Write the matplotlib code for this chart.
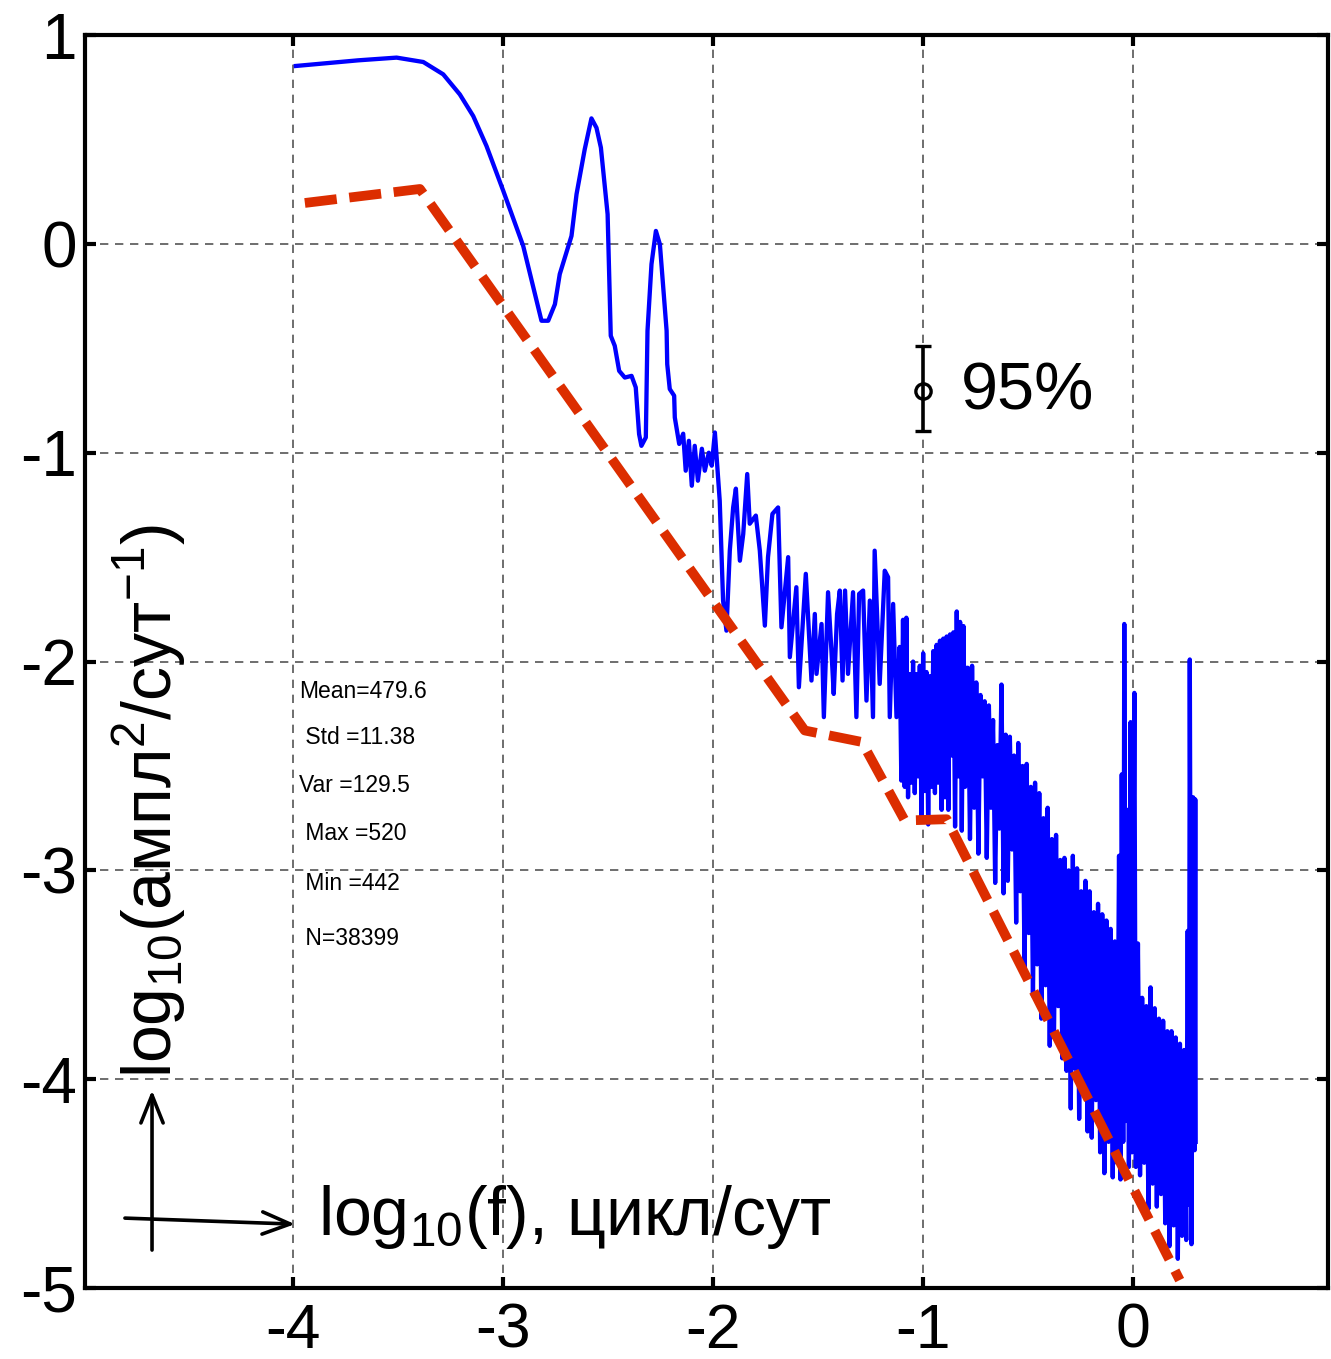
import matplotlib
matplotlib.use('Agg')
import matplotlib.pyplot as plt

plt.rcParams['font.family'] = ['Liberation Sans', 'DejaVu Sans']
plt.rcParams['mathtext.fontset'] = 'custom'
plt.rcParams['mathtext.rm'] = 'Liberation Sans'

# спектр: log10(f) и log10(S)
f_log = [-3.986, -3.689, -3.506, -3.379, -3.284, -3.205, -3.141, -3.078, -2.998, -2.903,
         -2.816, -2.784, -2.752, -2.729, -2.673, -2.649, -2.610, -2.578, -2.554, -2.533,
         -2.501, -2.486, -2.467, -2.446, -2.419, -2.387, -2.367, -2.351, -2.340, -2.319,
         -2.311, -2.292, -2.271, -2.252, -2.220, -2.217, -2.205, -2.184, -2.181, -2.160,
         -2.141, -2.129, -2.114, -2.100, -2.086, -2.071, -2.052, -2.038, -2.019, -2.005,
         -1.990, -1.967, -1.951, -1.935, -1.919, -1.903, -1.890, -1.871, -1.855, -1.836,
         -1.824, -1.795, -1.776, -1.752, -1.737, -1.716, -1.689, -1.673, -1.641, -1.633,
         -1.602, -1.590, -1.557, -1.530, -1.514, -1.506, -1.482, -1.471, -1.451, -1.435,
         -1.424, -1.408, -1.395, -1.382, -1.370, -1.356, -1.332, -1.316, -1.303, -1.284,
         -1.268, -1.252, -1.237, -1.229, -1.205, -1.181, -1.165, -1.157, -1.141, -1.125,
         -1.110, -1.102, -1.094, -1.086, -1.078, -1.070, -1.062, -1.054, -1.046, -1.038,
         -1.030, -1.022, -1.014, -1.006, -0.998, -0.990, -0.982, -0.974, -0.966, -0.958,
         -0.950, -0.942, -0.934, -0.926, -0.918, -0.910, -0.902, -0.894, -0.886, -0.878,
         -0.870, -0.862, -0.854, -0.846, -0.838, -0.830, -0.822, -0.814, -0.806, -0.798,
         -0.790,
         -0.785, -0.775, -0.765, -0.755, -0.745, -0.735, -0.725, -0.715, -0.705, -0.695,
         -0.685, -0.675, -0.665, -0.655, -0.645, -0.635, -0.625, -0.615, -0.605, -0.595,
         -0.585, -0.575, -0.565, -0.555, -0.545, -0.535, -0.525, -0.515, -0.505, -0.495,
         -0.485, -0.475, -0.465, -0.455, -0.445, -0.435, -0.425, -0.415, -0.405, -0.395,
         -0.385, -0.375, -0.365, -0.355, -0.345, -0.335, -0.325, -0.315, -0.305, -0.295,
         -0.285, -0.275, -0.265, -0.255, -0.245, -0.235, -0.225, -0.215, -0.205, -0.195,
         -0.185, -0.175, -0.165, -0.155, -0.145, -0.135, -0.125, -0.115, -0.105, -0.095,
         -0.085, -0.075, -0.065, -0.058, -0.052, -0.045, -0.040, -0.033, -0.025, -0.018,
         -0.010, -0.003, 0.008, 0.015, 0.025, 0.035, 0.045, 0.055, 0.065, 0.075,
         0.085, 0.095, 0.105, 0.115, 0.125, 0.135, 0.145, 0.155, 0.165, 0.175,
         0.185, 0.195, 0.205, 0.215, 0.225, 0.235, 0.245, 0.255, 0.262, 0.268,
         0.272, 0.280, 0.288, 0.295, 0.298, 0.300]
s_log = [0.852, 0.879, 0.892, 0.871, 0.812, 0.716, 0.612, 0.469, 0.254, -0.010,
         -0.368, -0.368, -0.289, -0.145, 0.038, 0.238, 0.453, 0.601, 0.556, 0.461,
         0.142, -0.440, -0.488, -0.608, -0.640, -0.632, -0.687, -0.911, -0.967, -0.927,
         -0.416, -0.097, 0.062, -0.002, -0.416, -0.576, -0.695, -0.727, -0.831, -0.958,
         -0.909, -1.086, -0.943, -1.158, -0.967, -1.134, -0.981, -1.086, -1.000, -1.062,
         -0.903, -1.230, -1.708, -1.852, -1.469, -1.262, -1.172, -1.517, -1.389, -1.102,
         -1.340, -1.301, -1.469, -1.828, -1.500, -1.293, -1.262, -1.836, -1.500, -1.979,
         -1.644, -2.123, -1.580, -2.091, -1.772, -2.059, -1.820, -2.266, -1.668, -1.947,
         -2.155, -1.772, -1.660, -2.091, -1.660, -2.059, -1.668, -2.266, -1.676, -1.660,
         -2.187, -1.708, -2.266, -1.469, -2.107, -1.565, -1.596, -2.266, -1.724, -2.266,
         -1.93, -2.57, -1.80, -2.60, -1.79, -2.65, -2.06, -2.58, -2.00, -2.63,
         -2.06, -2.55, -2.02, -2.75, -1.96, -2.62, -2.05, -2.78, -2.07, -2.60,
         -1.95, -2.63, -1.92, -2.58, -1.90, -2.71, -1.89, -2.65, -1.88, -2.71,
         -1.87, -2.45, -1.86, -2.79, -1.76, -2.55, -1.81, -2.81, -1.83, -2.60,
         -2.03,
         -2.03, -2.85, -2.02, -2.70, -2.10, -2.92, -2.16, -2.55, -2.19, -2.94,
         -2.21, -2.70, -2.28, -3.06, -2.40, -2.80, -2.11, -3.11, -2.35, -3.05,
         -2.36, -2.90, -2.45, -3.25, -2.39, -3.10, -2.50, -3.47, -2.49, -3.30,
         -2.60, -3.60, -2.58, -3.45, -2.63, -3.71, -2.75, -3.55, -2.70, -3.84,
         -2.85, -3.80, -2.83, -3.65, -2.95, -3.90, -2.94, -3.96, -3.00, -4.14,
         -2.93, -3.95, -2.99, -4.19, -3.10, -4.05, -3.05, -4.25, -3.10, -4.28,
         -3.20, -4.10, -3.16, -4.35, -3.21, -4.45, -3.24, -4.30, -3.28, -4.47,
         -3.34, -4.40, -2.93, -4.48, -2.54, -4.30, -1.82, -4.20, -2.71, -4.42,
         -2.29, -4.35, -2.15, -4.42, -3.35, -4.46, -3.61, -4.40, -3.65, -4.62,
         -3.56, -4.50, -3.66, -4.61, -3.71, -4.55, -3.72, -4.69, -3.77, -4.80,
         -3.77, -4.70, -3.80, -4.86, -3.83, -4.75, -3.86, -4.77, -3.29, -4.60,
         -1.99, -4.79, -2.65, -4.34, -2.66, -4.30]

# кусочно-линейная аппроксимация (красный пунктир)
fit_f = [-3.943, -3.395, -1.562, -1.290, -1.086, -0.886, 0.224]
fit_s = [0.196, 0.263, -2.330, -2.385, -2.761, -2.755, -4.962]

# 95% доверительный интервал
ci_f = -1.0
ci_s = -0.703
ci_lo = 0.192
ci_hi = 0.215

stats = ['Mean=479.6', ' Std =11.38', 'Var =129.5', ' Max =520', ' Min =442', ' N=38399']
stats_y = [-2.145, -2.365, -2.595, -2.825, -3.065, -3.325]

fig = plt.figure(figsize=(13.31, 13.59), dpi=100)
ax = fig.add_axes([0.0639, 0.0522, 0.9338, 0.922])

ax.plot(f_log, s_log, color='#0000ff', lw=3.1, solid_joinstyle='round', zorder=3)
ax.plot(fit_f, fit_s, color='#dc2d00', lw=7, dashes=(3.3, 1.3), zorder=4)

ax.errorbar(ci_f, ci_s, yerr=[[ci_lo], [ci_hi]], fmt='o', mfc='none', mec='k', mew=2.4,
            ms=11, ecolor='k', elinewidth=2.6, capsize=6, capthick=2.6, zorder=5)
ax.text(-0.82, -0.71, '95%', fontsize=48, va='center', ha='left')

for s, yy in zip(stats, stats_y):
    ax.text(-3.97, yy, s, fontsize=16.5, va='center', ha='left')

# подписи осей внутри поля
ax.text(-3.881, -4.746, r'log$_{\mathregular{10}}$(f), цикл/сут', fontsize=49,
        ha='left', va='baseline')
ax.text(-4.576, -3.995, r'log$_{\mathregular{10}}$(ампл$^{\mathregular{2}}$/сут$^{\mathregular{-1}}$)',
        fontsize=49, rotation=90, rotation_mode='anchor', ha='left', va='baseline')
ax.annotate('', xy=(-3.990, -4.694), xytext=(-4.800, -4.665),
            arrowprops=dict(arrowstyle='->,head_length=2.0,head_width=0.8', lw=2.6,
                            color='k', shrinkA=0, shrinkB=0))
ax.annotate('', xy=(-4.671, -4.053), xytext=(-4.671, -4.818),
            arrowprops=dict(arrowstyle='->,head_length=2.0,head_width=0.8', lw=2.6,
                            color='k', shrinkA=0, shrinkB=0))

ax.set_xlim(-4.99, 0.93)
ax.set_ylim(-5, 1)
ax.set_xticks([-4, -3, -2, -1, 0])
ax.set_yticks([-5, -4, -3, -2, -1, 0, 1])
ax.set_xticklabels(['-4', '-3', '-2', '-1', '0'])
ax.set_yticklabels(['-5', '-4', '-3', '-2', '-1', '0', '1'])
ax.tick_params(direction='in', length=8, width=3, top=True, right=True, labelsize=46)
ax.tick_params(axis='x', pad=10, labelsize=45)
ax.tick_params(axis='y', pad=6)
ax.grid(True, color='#555555', lw=1.2, dashes=(5, 4))
ax.set_axisbelow(True)
for sp in ax.spines.values():
    sp.set_linewidth(3)

fig.savefig('out.png', dpi=100)
